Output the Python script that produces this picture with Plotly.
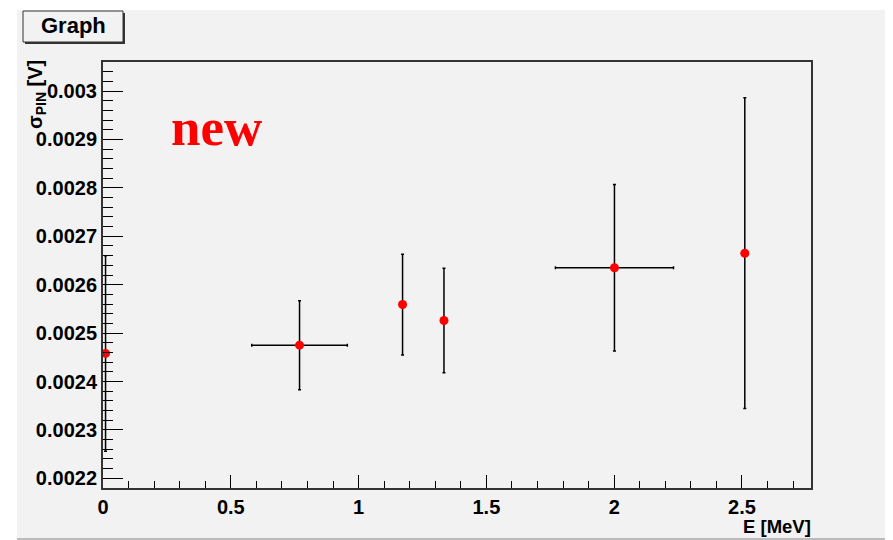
import plotly.graph_objects as go

# ---- data ----
energy = [0.01, 0.769, 1.172, 1.334, 2.001, 2.511]
energy_err = [0.0, 0.187, 0.0, 0.0, 0.231, 0.0]
sigma_pin = [0.002458, 0.002475, 0.002559, 0.002526, 0.002635, 0.002665]
sigma_err = [0.000202, 0.000092, 0.000104, 0.000108, 0.000172, 0.000321]

y_tickvals = [0.0022, 0.0023, 0.0024, 0.0025, 0.0026, 0.0027, 0.0028, 0.0029, 0.003]
y_ticktext = ["0.0022", "0.0023", "0.0024", "0.0025", "0.0026", "0.0027", "0.0028", "0.0029", "0.003"]
x_tickvals = [0, 0.5, 1, 1.5, 2, 2.5]
x_ticktext = ["0", "0.5", "1", "1.5", "2", "2.5"]

# ---- layout geometry (pixels); page body has an 8px margin ----
OFF = 8
W, H = 893 - OFF, 540 - OFF
L, T = 103 - OFF, 62 - OFF
R = W - (811 - OFF)
B = H - (488 - OFF)
PW, PH = W - L - R, H - T - B


def px(sx):
    return (sx - OFF - L) / PW


def py(sy):
    return (H - B - (sy - OFF)) / PH


fig = go.Figure()
fig.add_trace(go.Scatter(
    x=energy, y=sigma_pin, mode="markers",
    marker=dict(color="#ff0000", size=9),
    error_x=dict(type="data", array=energy_err, color="black", thickness=1.5, width=1.5),
    error_y=dict(type="data", array=sigma_err, color="black", thickness=1.5, width=1.5),
    cliponaxis=False,
    showlegend=False,
))

FONT = "Liberation Sans, Arial, sans-serif"
tick_font = dict(family=FONT, size=20, color="black", weight="bold")

fig.update_layout(
    width=W, height=H,
    margin=dict(l=L, r=R, t=T, b=B, pad=0),
    paper_bgcolor="white",
    plot_bgcolor="#f2f2f2",
    xaxis=dict(
        range=[0, 2.77], showgrid=False, zeroline=False,
        showline=True, mirror=True, linecolor="#333333", linewidth=2,
        ticks="inside", ticklen=13, tickwidth=1, tickcolor="black",
        tickvals=x_tickvals, ticktext=x_ticktext, tickfont=tick_font,
        minor=dict(ticks="inside", ticklen=7, dtick=0.1, tick0=0, tickcolor="black", showgrid=False),
    ),
    yaxis=dict(
        range=[0.00218, 0.003060], showgrid=False, zeroline=False,
        showline=True, mirror=True, linecolor="#333333", linewidth=2,
        ticks="inside", ticklen=20, tickwidth=1, tickcolor="black",
        tickvals=y_tickvals, ticktext=y_ticktext, tickfont=tick_font,
        minor=dict(ticks="inside", ticklen=10, dtick=0.00002, tick0=0.0022, tickcolor="black", showgrid=False),
    ),
    shapes=[
        # canvas background
        dict(type="rect", xref="paper", yref="paper",
             x0=px(17), x1=px(900), y0=py(539), y1=py(10),
             fillcolor="#f2f2f2", line=dict(width=0), layer="below"),
        dict(type="line", xref="paper", yref="paper",
             x0=px(17), x1=px(900), y0=py(539), y1=py(539),
             line=dict(color="#bbbbbb", width=2)),
        # title box shadow
        dict(type="rect", xref="paper", yref="paper",
             x0=px(25), x1=px(125), y0=py(44), y1=py(13),
             fillcolor="#333333", line=dict(width=0)),
        # title box
        dict(type="rect", xref="paper", yref="paper",
             x0=px(23), x1=px(123), y0=py(42), y1=py(11),
             fillcolor="#f2f2f2", line=dict(color="#333333", width=1)),
    ],
    annotations=[
        dict(text="<b>Graph</b>", xref="paper", yref="paper", x=px(73), y=py(26),
             xanchor="center", yanchor="middle", showarrow=False,
             font=dict(family=FONT, size=22, color="black")),
        dict(text="<b>σ<sub>PIN</sub> [V]</b>", xref="paper", yref="paper", x=px(36), y=py(95),
             xanchor="center", yanchor="middle", showarrow=False, textangle=-90,
             font=dict(family=FONT, size=20, color="black")),
        dict(text="<b>E [MeV]</b>", xref="paper", yref="paper", x=px(812), y=py(526),
             xanchor="right", yanchor="middle", showarrow=False, borderpad=0,
             font=dict(family=FONT, size=18.5, color="black")),
        dict(text="<b>new</b>", xref="paper", yref="paper", x=px(216), y=py(127),
             xanchor="center", yanchor="middle", showarrow=False,
             font=dict(family="Liberation Serif, Times New Roman, serif", size=53, color="#ff0000")),
    ],
)

fig.write_html("out.html")
